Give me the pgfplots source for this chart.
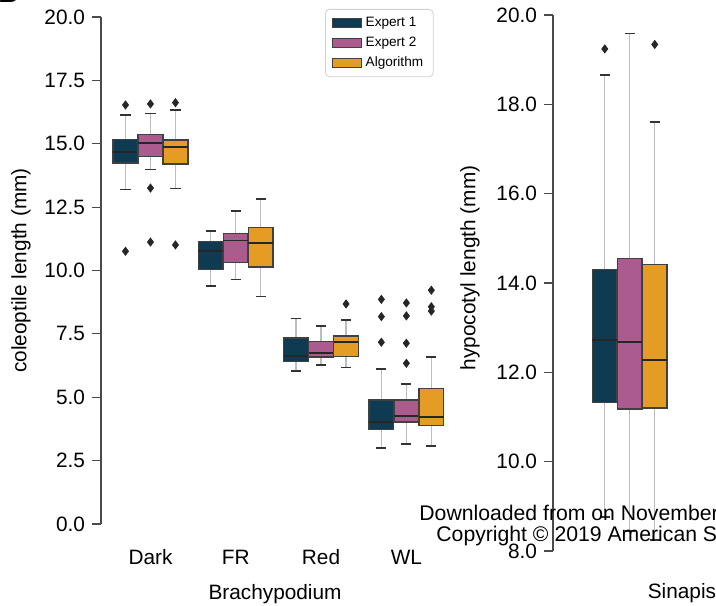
\documentclass[border=0pt]{standalone}
\usepackage{pgfplots}
\pgfplotsset{compat=1.18}
\usepgfplotslibrary{statistics}
\usepackage{fontspec}
\setmainfont{Liberation Sans}
\definecolor{cA}{HTML}{0E3A52}
\definecolor{cB}{HTML}{AC5B8E}
\definecolor{cC}{HTML}{E49C25}
\definecolor{wl}{HTML}{BDBDBD}
\definecolor{axc}{HTML}{4A4A4A}
\newcommand\fs{\fontsize{10.4}{12.5}\selectfont}
\newcommand\lfs{\fontsize{6.8}{8}\selectfont}
\tikzset{wline/.style={draw=wl, line width=0.6pt}, wcap/.style={draw=black!80, line width=0.8pt}}
\pgfplotsset{
  boxplot/draw direction=y,
  boxplot/draw/lower whisker/.code={%
    \draw[wline] (boxplot cs:\pgfplotsboxplotvalue{lower quartile}) -- (boxplot cs:\pgfplotsboxplotvalue{lower whisker});
    \draw[wcap] (boxplot whisker cs:\pgfplotsboxplotvalue{lower whisker},0) -- (boxplot whisker cs:\pgfplotsboxplotvalue{lower whisker},1);
  },
  boxplot/draw/upper whisker/.code={%
    \draw[wline] (boxplot cs:\pgfplotsboxplotvalue{upper quartile}) -- (boxplot cs:\pgfplotsboxplotvalue{upper whisker});
    \draw[wcap] (boxplot whisker cs:\pgfplotsboxplotvalue{upper whisker},0) -- (boxplot whisker cs:\pgfplotsboxplotvalue{upper whisker},1);
  },
  mybox/.style n args={7}{
    forget plot,
    boxplot prepared={draw direction=y, draw position=#2, lower whisker=#3, lower quartile=#4,
      median=#5, upper quartile=#6, upper whisker=#7, box extend=0.29, whisker extend=0.12},
    boxplot/every box/.style={fill=#1, draw=black!75, line width=0.7pt},
    boxplot/every median/.style={draw=black!85, line width=0.9pt},
    mark=diamond*, mark size=2pt, mark options={draw=black!85, fill=black!85},
  },
  common/.style={
    scale only axis, clip=false,
    axis y line*=left, axis x line*=bottom,
    x axis line style={draw=none},
    y axis line style={draw=axc, line width=0.6pt},
    tick align=outside, major tick length=4.5pt,
    ytick style={draw=axc, line width=0.6pt},
    xtick style={draw=none},
    tick label style={font=\fs},
    label style={font=\fs},
    /pgf/number format/assume math mode=true,
    yticklabel style={/pgf/number format/.cd, fixed, fixed zerofill, precision=1},
  },
}
\begin{document}
\begin{tikzpicture}
\begin{axis}[common,
  at={(50.5pt,40.5pt)}, anchor=south west,
  width=174pt, height=253.5pt,
  xmin=-0.58, xmax=3.5, ymin=0, ymax=20,
  ytick={0,2.5,...,20},
  xtick={0,1,2,3}, xticklabels={Dark,FR,Red,WL},
  xticklabel style={anchor=base, yshift=-15.75pt},
  xlabel={Brachypodium},
  xlabel style={at={(axis description cs:0.5,-0.138)}, anchor=center},
  ylabel={coleoptile length (mm)},
  ylabel style={at={(axis description cs:-0.2299,0.5)}, anchor=center},
  legend style={at={(axis description cs:0.644,1.0158)}, anchor=north west,
    draw=black!18, rounded corners=2pt, font=\lfs,
    nodes={inner ysep=1.8pt}},
  legend cell align=left,
  legend image code/.code={\draw[#1, sharp corners, line width=0.6pt] (0pt,-2.25pt) rectangle (14.5pt,2.25pt);},
]
\addlegendimage{fill=cA, draw=black!75}\addlegendentry{Expert 1}
\addlegendimage{fill=cB, draw=black!75}\addlegendentry{Expert 2}
\addlegendimage{fill=cC, draw=black!75}\addlegendentry{Algorithm}
% Dark
\addplot[mybox={cA}{-0.293}{13.20}{14.24}{14.66}{15.16}{16.13}] coordinates {(0,16.53) (0,10.76)};
\addplot[mybox={cB}{0}{13.98}{14.50}{15.04}{15.37}{16.19}] coordinates {(0,16.57) (0,13.25) (0,11.12)};
\addplot[mybox={cC}{0.293}{13.24}{14.20}{14.86}{15.15}{16.32}] coordinates {(0,16.62) (0,11.01)};
% FR
\addplot[mybox={cA}{0.707}{9.38}{10.05}{10.77}{11.14}{11.55}] coordinates {};
\addplot[mybox={cB}{1}{9.65}{10.32}{11.18}{11.47}{12.34}] coordinates {};
\addplot[mybox={cC}{1.293}{8.97}{10.14}{11.10}{11.70}{12.81}] coordinates {};
% Red
\addplot[mybox={cA}{1.707}{6.04}{6.40}{6.63}{7.33}{8.11}] coordinates {};
\addplot[mybox={cB}{2}{6.27}{6.58}{6.73}{7.21}{7.81}] coordinates {};
\addplot[mybox={cC}{2.293}{6.17}{6.60}{7.17}{7.42}{8.05}] coordinates {(0,8.68)};
% WL
\addplot[mybox={cA}{2.707}{2.99}{3.72}{4.01}{4.89}{6.11}] coordinates {(0,8.86) (0,8.18) (0,7.17)};
\addplot[mybox={cB}{3}{3.16}{4.02}{4.27}{4.89}{5.53}] coordinates {(0,8.72) (0,8.21) (0,7.13) (0,6.34)};
\addplot[mybox={cC}{3.293}{3.08}{3.89}{4.21}{5.34}{6.58}] coordinates {(0,9.22) (0,8.57) (0,8.40)};
\end{axis}
\begin{axis}[common,
  at={(276.5pt,27pt)}, anchor=south west,
  width=103.5pt, height=268pt,
  xmin=-0.9, xmax=1.527, ymin=8, ymax=20,
  ytick={8,10,...,20},
  xtick=\empty,
  xlabel={Sinapis},
  xlabel style={at={(axis description cs:0.623,-0.0787)}, anchor=center},
  ylabel={hypocotyl length (mm)},
  ylabel style={at={(axis description cs:-0.401,0.528)}, anchor=center},
]
\addplot[mybox={cA}{-0.293}{8.76}{11.33}{12.73}{14.30}{18.65}] coordinates {(0,19.24)};
\addplot[mybox={cB}{0}{8.45}{11.18}{12.68}{14.55}{19.59}] coordinates {};
\addplot[mybox={cC}{0.293}{8.25}{11.20}{12.28}{14.41}{17.61}] coordinates {(0,19.34)};
\end{axis}
\node[anchor=base west, inner sep=0, font=\fontsize{10.6}{12}\selectfont] at (209.5pt,42.5pt) {Downloaded from  on November};
\node[anchor=base west, inner sep=0, font=\fontsize{10.6}{12}\selectfont] at (218pt,32pt) {Copyright © 2019 American Society};
\node[anchor=base west, inner sep=0, font=\fontsize{14}{16}\selectfont\bfseries] at (-1pt,301pt) {B};
\pgfresetboundingbox
\useasboundingbox (0,0) rectangle (358pt,302.5pt);
\end{tikzpicture}
\end{document}
